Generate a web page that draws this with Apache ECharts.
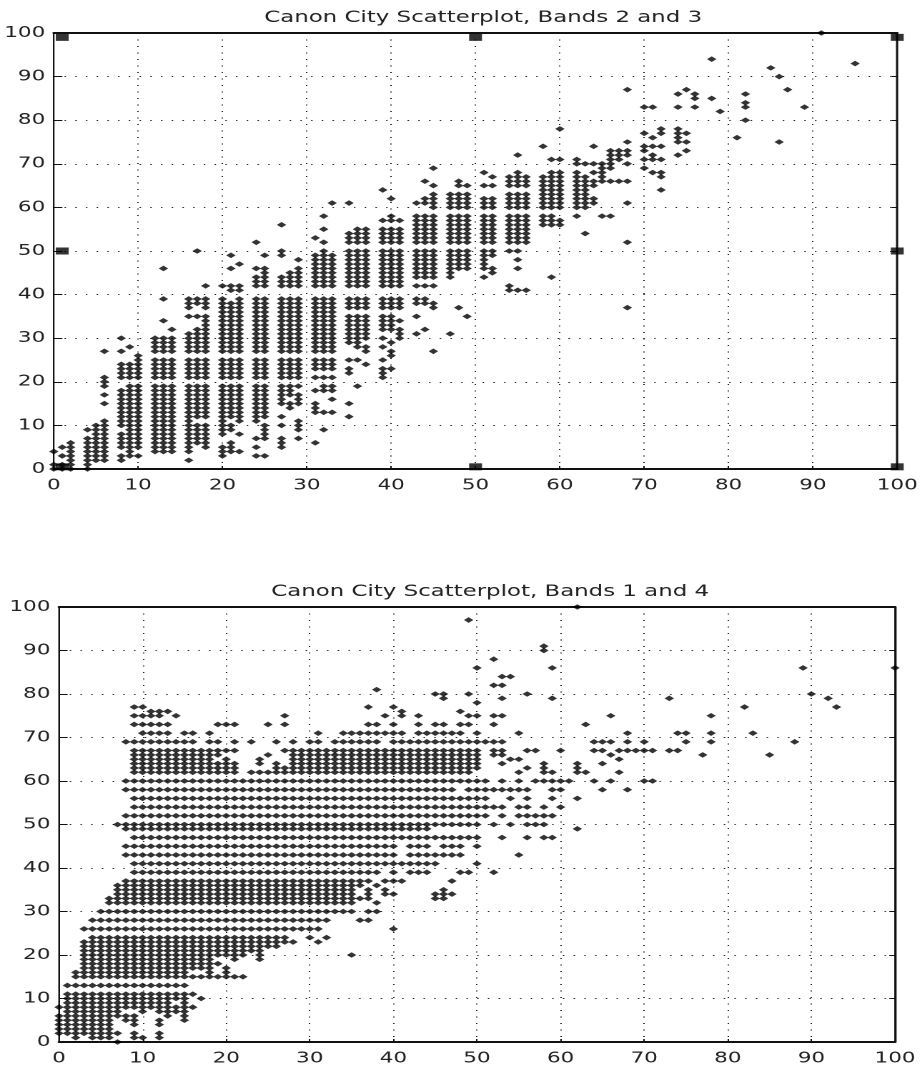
<!DOCTYPE html>
<html><head><meta charset="utf-8">
<style>html,body{margin:0;padding:0;background:#fff;overflow:hidden}
#c{width:645px;height:1070px;transform-origin:0 0;transform:scaleX(1.4295)}</style>
<script src="https://cdn.jsdelivr.net/npm/echarts@6/dist/echarts.min.js"></script>
</head><body><div id="c"></div>
<script>
const tickLabels=[0,10,20,30,40,50,60,70,80,90,100];
const topTitle='Canon City Scatterplot, Bands 2 and 3';
const botTitle='Canon City Scatterplot, Bands 1 and 4';
const topMarkX=[1,50,100,1,100,1,50,100];
const topMarkY=[99,99,99,50,50,0.5,0.5,0.5];
const topColX=[0,1,2,4,5,6,8,9,10,12,13,14,16,17,18,20,21,22,24,25,27,28,29,31,32,33,35,36,37,39,40,41,43,44,45,47,48,49,51,52,54,55,56,58,59,60,62,63,64,65,66,67,68,70,71,72,74,75,76,78,79,81,82,85,86,87,89,91,95];
const topColY=[
[0,1,4],
[0,1,3,5],
[0,1,2,3,4,5,6],
[0,1,2,3,4,5,6,7,9],
[2,3,4,5,6,7,8,9,10],
[2,3,4,5,6,7,8,9,10,11,15,17,19,20,21,27],
[2,3,5,6,7,8,10,11,12,13,14,15,16,17,18,21,22,23,24,27,30],
[3,4,5,6,7,8,9,10,11,12,13,14,15,16,17,18,19,21,22,23,24,28],
[3,5,6,7,8,9,10,11,12,13,14,15,16,17,18,19,21,22,23,24,25,26],
[4,5,6,7,8,9,10,11,12,13,14,15,16,17,18,19,21,22,23,24,25,27,28,29,30],
[4,5,6,7,8,9,10,11,12,13,14,15,16,17,18,19,21,22,23,24,25,27,28,29,30,34,39,46],
[4,5,6,7,8,9,10,11,12,13,14,15,16,17,18,19,21,22,23,24,25,27,28,29,30,32],
[2,4,5,6,7,8,9,10,11,12,13,14,15,16,17,18,19,21,22,23,24,25,27,28,29,30,31,35,37,38,39],
[6,7,8,9,10,12,13,14,15,16,17,18,19,21,22,23,24,25,27,28,29,30,31,32,35,38,39,50],
[5,6,7,8,9,10,12,13,14,15,16,17,18,19,21,22,23,24,25,27,28,29,30,31,32,33,34,35,37,38,39,42],
[3,4,5,8,9,10,11,12,13,14,15,16,17,18,19,21,22,23,24,25,27,28,29,30,31,32,33,34,35,36,37,38,39,42],
[4,5,6,9,10,12,13,14,15,16,17,18,19,21,22,23,24,25,27,28,29,30,31,32,33,34,35,36,37,38,41,42,46,49],
[4,8,11,12,13,14,15,16,17,18,19,21,22,23,24,25,27,28,29,30,31,32,33,34,35,36,37,38,39,41,42,47],
[3,5,7,11,12,13,14,15,16,17,18,19,21,22,23,24,25,27,28,29,30,31,32,33,34,35,36,37,38,39,42,43,44,46,52],
[3,7,8,9,10,12,13,14,15,16,17,18,19,21,22,23,24,25,27,28,29,30,31,32,33,34,35,36,37,38,39,42,43,44,45,46,49],
[5,6,7,10,12,15,16,17,18,19,21,22,23,24,25,27,28,29,30,31,32,33,34,35,36,37,38,39,42,43,44,49,50,56],
[14,15,17,18,19,21,22,23,24,25,27,28,29,30,31,32,33,34,35,36,37,38,39,42,43,44,45],
[7,9,10,11,15,16,17,19,21,22,23,24,25,27,28,29,30,31,32,33,34,35,36,37,38,39,42,43,44,45,46,48],
[6,13,14,15,18,21,23,24,25,27,28,29,30,31,32,33,34,35,36,37,38,39,42,43,44,45,46,47,48,49,53],
[9,13,18,19,21,23,24,25,27,28,29,30,31,32,33,34,35,36,37,38,39,42,43,44,45,46,47,48,49,50,52,55,58],
[13,16,18,19,21,23,24,25,27,28,29,30,31,32,33,34,35,36,37,38,39,42,43,44,45,46,47,48,49,61],
[12,15,22,23,25,29,30,31,32,33,34,35,37,38,39,42,43,44,45,46,47,48,49,50,52,53,54,61],
[19,25,28,29,30,31,32,33,34,35,37,38,39,42,43,44,45,46,47,48,49,50,52,53,54,55],
[24,27,28,30,31,32,33,34,35,37,38,39,42,43,44,45,46,47,48,49,50,52,53,54,55],
[21,22,23,25,28,30,32,33,34,35,37,38,39,42,43,44,45,46,47,48,49,50,52,53,54,55,57,64],
[23,26,27,29,32,33,34,35,37,38,39,42,43,44,45,46,47,48,49,50,52,53,54,55,57,58,62],
[30,31,32,34,37,38,39,42,43,44,45,46,47,48,49,50,52,53,54,55,57],
[31,35,38,39,42,44,45,46,47,48,49,50,52,53,54,55,56,57,58,61],
[32,38,39,42,44,45,46,47,48,49,50,52,53,54,55,56,57,58,61,62,66],
[27,37,38,42,44,45,46,47,48,49,50,52,53,54,55,56,57,58,60,61,62,63,65,69],
[31,44,45,46,47,48,49,50,52,53,54,55,56,57,58,60,61,62,63],
[37,46,47,48,49,50,52,53,54,55,56,57,58,60,61,62,63,65,66],
[35,46,47,48,49,50,52,53,54,55,56,57,58,60,61,62,63,65],
[44,46,47,48,49,50,52,53,54,55,56,57,58,60,61,62,65,68],
[45,46,49,50,52,53,54,55,56,57,58,60,61,62,65,67],
[41,42,50,52,53,54,55,56,57,58,60,61,62,63,65,66,67],
[41,46,48,50,52,53,54,55,56,57,58,60,61,62,63,65,66,67,68,72],
[41,52,53,54,55,56,57,58,60,61,62,63,65,66,67],
[56,57,58,60,61,62,63,64,65,66,67,74],
[44,56,57,58,60,61,62,63,64,65,66,67,68,71],
[56,57,60,61,62,63,64,65,66,67,68,71,78],
[58,60,61,62,63,64,65,66,67,68,70,71],
[54,60,61,62,63,64,65,66,67,70],
[61,62,65,66,68,70,74],
[58,66,67,68,69,70],
[58,66,69,70,71,72,73],
[66,71,72,73],
[37,52,61,66,70,72,73,75,87],
[69,71,73,74,77,83],
[68,71,72,74,76,83],
[64,67,68,71,74,77,78],
[72,75,76,77,78,83,86],
[73,75,77,87],
[83,85,86],
[85,94],
[82],
[76],
[80,83,84,86],
[92],
[75,90],
[87],
[83],
[100],
[93]];
const botRowY=[77,76,75,73,71,69,67,66,65,64,63,62,60,58,56,54,52,50,49,47,45,43,41,39,37,36,35,34,33,32,30,28,26,24,23,22,21,20,19,18,17,16,15,13,11,10,9,8,7,6,5,4,3,2,1,0,97,91,90,88,86,84,82,81,80,79,78,100];
const botRowX=[
[9,10,37,40,82,93],
[11,12,13,41,48],
[9,10,11,12,14,27,39,41,43,49,50,52,53,66,78],
[9,10,11,12,13,19,20,21,25,27,37,38,40,43,45,46,48,49,52,63],
[10,11,12,13,15,16,18,31,34,35,36,37,38,39,40,41,43,44,45,46,47,48,50,55,68,74,75,78,83],
[8,9,10,11,12,13,14,15,16,18,19,21,23,26,28,30,31,33,34,35,36,37,38,40,41,42,43,44,45,46,47,48,49,50,51,52,53,64,65,66,68,70,75,78,88],
[9,10,11,12,13,14,15,16,17,18,19,20,21,27,28,29,30,31,32,33,34,35,36,37,38,39,40,41,42,43,44,45,46,47,48,49,50,52,53,56,57,60,64,65,67,68,69,70,71,73,74],
[9,10,11,12,13,14,15,16,17,18,19,25,28,29,30,31,32,33,34,35,36,37,38,39,40,41,42,43,44,45,46,47,48,49,50,52,53,66,77,85],
[9,10,11,12,13,14,15,16,17,18,20,24,28,29,30,31,32,33,34,35,36,37,38,39,40,41,42,43,44,45,46,47,48,49,50,54,55,67],
[9,10,11,12,13,14,15,16,17,18,19,20,21,24,26,28,29,30,31,32,33,34,35,36,37,38,39,40,41,42,43,44,45,46,47,48,49,50,53,58,62,65],
[9,10,11,12,13,14,15,16,17,18,19,20,21,26,27,28,29,30,31,32,33,34,35,36,37,38,39,40,41,42,43,44,45,46,47,48,49,50,56,58,62],
[9,10,11,12,13,14,15,16,17,18,19,20,21,23,24,25,26,27,28,29,30,31,32,33,34,35,36,37,38,39,40,41,42,43,44,45,46,47,48,49,55,58,59,62,63,67],
[8,9,10,11,12,13,14,15,16,17,18,19,20,21,22,23,24,25,26,27,28,29,30,31,32,33,34,35,36,37,38,39,40,41,42,43,44,45,46,47,48,49,50,51,53,55,57,58,59,60,61,64,66,70,71],
[8,9,10,11,12,13,14,15,16,17,18,19,20,21,22,23,24,25,26,27,28,29,30,31,32,33,34,35,36,37,38,39,40,41,42,43,44,45,46,47,49,50,51,52,53,54,55,56,59,60,65,68],
[9,10,11,12,13,14,15,16,17,18,19,20,21,22,23,24,25,26,27,28,29,30,31,32,33,34,35,36,37,38,39,40,41,42,43,44,45,46,47,48,49,50,51,54,56,59,62],
[9,10,11,12,13,14,15,16,17,18,19,20,21,22,23,24,25,26,27,28,29,30,31,32,33,34,35,36,37,38,39,40,41,42,43,44,45,46,47,48,49,50,51,52,53,55,56,58,60],
[8,9,10,11,12,13,14,15,16,17,18,19,20,21,22,23,24,25,26,27,28,29,30,31,32,33,34,35,36,37,38,39,40,41,42,43,44,45,46,47,48,49,50,51,53,55,56,57,58,59],
[7,8,9,10,11,12,13,14,15,16,17,18,19,20,21,22,23,24,25,26,27,28,29,30,31,32,33,34,35,36,37,38,39,40,41,42,43,44,45,46,47,48,49,50,52,54,56,57,58],
[8,9,10,11,12,13,14,15,16,17,18,19,20,21,22,23,24,25,26,27,28,29,30,31,32,33,34,35,36,37,38,39,40,41,42,43,44,62],
[9,10,11,12,13,14,15,16,17,18,19,20,21,22,23,24,25,26,27,28,29,30,31,32,33,34,35,36,37,38,39,40,41,42,43,44,45,46,47,48,49,50,53,56,58,59],
[8,9,10,11,12,13,14,15,16,17,18,19,20,21,22,23,24,25,26,27,28,29,30,31,32,33,34,35,36,37,38,39,40,42,43,44,46,47,48,50],
[8,9,10,11,12,13,14,15,16,17,18,19,20,21,22,23,24,25,26,27,28,29,30,31,32,33,34,35,36,37,38,39,40,42,43,44,45,46,47,48,55],
[9,10,11,12,13,14,15,16,17,18,19,20,21,22,23,24,25,26,27,28,29,30,31,32,33,34,35,36,37,38,39,40,41,42,43,44,45,50],
[9,10,11,12,13,14,15,16,17,18,19,20,21,22,23,24,25,26,27,28,29,30,31,32,33,34,35,36,37,38,40,42,43,44,48,49,52],
[8,9,10,11,12,13,14,15,16,17,18,19,20,21,22,23,24,25,26,27,28,29,30,31,32,33,34,35,36,37,39,40,41,47],
[7,8,9,10,11,12,13,14,15,16,17,18,19,20,21,22,23,24,25,26,27,28,29,30,31,32,33,34,35,36,38],
[7,8,9,10,11,12,13,14,15,16,17,18,19,20,21,22,23,24,25,26,27,28,29,30,31,32,33,34,35,37,39,46],
[7,8,9,10,11,12,13,14,15,16,17,18,19,20,21,22,23,24,25,26,27,28,29,30,31,32,33,34,35,37,39,40,45,46,47],
[6,7,8,9,10,11,12,13,14,15,16,17,18,19,20,21,22,23,24,25,26,27,28,29,30,31,32,33,34,35,36,37,45,46],
[6,7,8,9,10,11,12,13,14,15,16,17,18,19,20,21,22,23,24,25,26,27,28,29,30,31,32,33,34,35,38],
[5,6,7,8,9,10,11,12,13,14,15,16,17,18,19,20,21,22,23,24,25,26,27,28,29,30,31,32,33,34,35,37,38],
[4,5,6,7,8,9,10,11,12,13,14,15,16,17,18,19,20,21,22,23,24,25,26,27,28,29,30,31,32,36,37],
[3,4,5,6,7,8,9,10,11,12,13,14,15,16,17,18,19,20,21,22,23,24,25,26,27,28,29,30,31,40],
[4,5,6,7,8,9,10,11,12,13,14,15,16,17,18,19,20,21,22,23,24,25,26,27,30,32],
[3,4,5,6,7,8,9,10,11,12,13,14,15,16,17,18,19,20,21,22,23,24,25,26,27,28,31],
[3,4,5,6,7,8,9,10,11,12,13,14,15,16,17,18,19,20,21,22,23,24,25,26],
[3,4,5,6,7,8,9,10,11,12,13,14,15,16,17,18,19,20,21,22,23,24],
[3,4,5,6,7,8,9,10,11,12,13,14,15,16,17,18,19,20,21,22,24,35],
[3,4,5,6,7,8,9,10,11,12,13,14,15,16,17,18,21,24],
[3,4,5,6,7,8,9,10,11,12,13,14,15,16,17,18,19],
[3,4,5,6,7,8,9,10,11,12,13,14,15,16,17,18,20],
[2,3,4,5,6,7,8,9,10,11,12,13,14,15,18,20],
[2,3,4,5,6,7,8,9,10,11,12,13,14,15,16,17,18,19,20,21,22],
[1,2,3,4,5,6,7,8,9,10,11,12,13,14,15],
[1,2,3,4,5,6,7,8,9,10,11,12,13,14,15,16],
[1,2,3,4,5,6,7,8,9,10,11,12,13,14,15,17],
[1,2,3,4,5,6,7,8,9,10,11,12,13,15],
[0,1,2,3,4,5,6,7,8,9,10,11,12,13,14,15,16],
[1,2,3,4,5,6,7,10,12,13,14,15],
[0,1,2,3,4,5,6,7,8,9,13,15],
[0,1,2,3,4,5,6,8,9,12,15],
[0,1,2,3,4,5,6,9,12],
[0,1,2,3,4,5,6],
[0,1,2,3,4,5,6,7,9,12],
[2,4,5,6,9,10,12],
[7],
[49],[58],[58],[52],[50,59,89,100],[53,54],[52,53],[38],[45,46,49,56,90],[46,53,59,73,92],[50],[62]];
const topPts=[];
topColX.forEach((x,i)=>topColY[i].forEach(y=>topPts.push([x,y])));
const botPts=[];
botRowY.forEach((y,i)=>botRowX[i].forEach(x=>botPts.push([x,y])));
const marks=topMarkX.map((x,i)=>[x,topMarkY[i]]);
const S=1.4295;
const fx=v=>v/S;
const lblStyle={color:'#222',fontFamily:'DejaVu Sans',fontSize:15};
const mkX=(g)=>({gridIndex:g,type:'value',min:0,max:100,interval:10,
  axisLine:{show:true,onZero:false,lineStyle:{color:'#111',width:2}},
  axisTick:{show:true,inside:true,length:3,lineStyle:{color:'#111'}},
  axisLabel:Object.assign({margin:9},lblStyle),
  splitLine:{show:true,lineStyle:{color:'#222',width:1,type:[1,5.5]}}});
const mkTop=(g)=>({gridIndex:g,type:'value',position:'top',min:0,max:100,interval:10,
  axisLine:{show:true,onZero:false,lineStyle:{color:'#111',width:2}},
  axisTick:{show:false},axisLabel:{show:false},splitLine:{show:false}});
const mkY=(g)=>({gridIndex:g,type:'value',min:0,max:100,interval:10,
  axisLine:{show:true,onZero:false,lineStyle:{color:'#111',width:1}},
  axisTick:{show:true,inside:true,length:6,lineStyle:{color:'#111'}},
  axisLabel:Object.assign({margin:6},lblStyle),
  splitLine:{show:true,lineStyle:{color:'#222',width:1,type:[1,6.5]}}});
const mkR=(g)=>({gridIndex:g,type:'value',position:'right',min:0,max:100,interval:10,
  axisLine:{show:true,onZero:false,lineStyle:{color:'#111',width:1.4}},
  axisTick:{show:true,inside:true,length:4,lineStyle:{color:'#111'}},
  axisLabel:{show:false},splitLine:{show:false}});
const chart=echarts.init(document.getElementById('c'),null,{renderer:'canvas',devicePixelRatio:2});
const sym={symbol:'diamond',symbolSize:[6.6,5.6],itemStyle:{color:'#000'},silent:true,animation:false};
chart.setOption({
  animation:false,backgroundColor:'#fff',
  title:[
   {text:topTitle,left:fx(476),top:5,textAlign:'center',textStyle:{fontFamily:'DejaVu Sans',fontSize:16,fontWeight:'normal',color:'#222'}},
   {text:botTitle,left:fx(483),top:579,textAlign:'center',textStyle:{fontFamily:'DejaVu Sans',fontSize:16,fontWeight:'normal',color:'#222'}}],
  grid:[
   {left:fx(49),width:fx(858),top:33,height:436,show:true,borderColor:'#111',borderWidth:1,backgroundColor:'#fff'},
   {left:fx(59),width:fx(836),top:607,height:435,show:true,borderColor:'#111',borderWidth:1,backgroundColor:'#fff'}],
  xAxis:[mkX(0),mkX(1),mkTop(0),mkTop(1)],
  yAxis:[mkY(0),mkY(1),mkR(0),mkR(1)],
  series:[
   Object.assign({type:'scatter',xAxisIndex:0,yAxisIndex:0,data:topPts,clip:false},sym),
   Object.assign({type:'scatter',xAxisIndex:1,yAxisIndex:1,data:botPts,clip:false},sym),
   {type:'scatter',xAxisIndex:0,yAxisIndex:0,data:marks,symbol:'rect',symbolSize:[9,7],clip:false,silent:true,itemStyle:{color:'#000'}}]
});
</script></body></html>
